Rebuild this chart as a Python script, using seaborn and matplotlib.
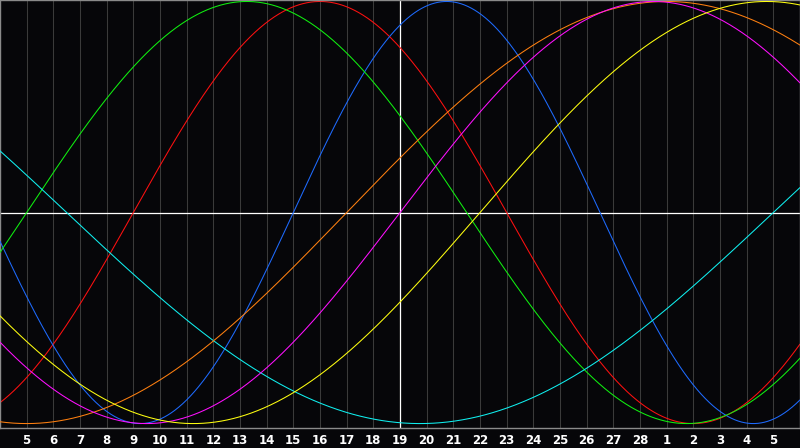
import numpy as np
import pandas as pd
import matplotlib
matplotlib.use("Agg")
import matplotlib.pyplot as plt
import seaborn as sns

# datos del biorritmo
cycle_names = ["Physical", "Emotional", "Intellectual", "Intuitive", "Aesthetic", "Awareness", "Spiritual"]
cycle_days = [23, 28, 33, 38, 43, 48, 53]
cycle_colors = ["#1e6bff", "#ff1010", "#10f010", "#ff10ff", "#ffff10", "#ff8010", "#10f0f0"]
days_alive_at_start = 14387  # dias vividos el dia anterior al primer tick
day_labels = [5, 6, 7, 8, 9, 10, 11, 12, 13, 14, 15, 16, 17, 18, 19, 20, 21, 22, 23, 24,
              25, 26, 27, 28, 1, 2, 3, 4, 5]
today_index = 15  # linea blanca vertical (dia 19)

# orden de dibujo
draw_order = ["Emotional", "Physical", "Intellectual", "Spiritual", "Awareness", "Intuitive", "Aesthetic"]

t = np.linspace(0, len(day_labels) + 1, 1201)
rows = []
for name, period in zip(cycle_names, cycle_days):
    vals = np.sin(2 * np.pi * (days_alive_at_start + t) / period)
    rows.append(pd.DataFrame({"day": t, "value": vals, "cycle": name}))
df = pd.concat(rows, ignore_index=True)

bg = "#060609"
sns.set_style("dark", {"axes.facecolor": bg, "figure.facecolor": bg})

fig = plt.figure(figsize=(8, 4.48), dpi=100)
ax = fig.add_axes([0, 20 / 448, 1, 428 / 448])

ticks = np.arange(1, len(day_labels) + 1)
for x in ticks:
    ax.axvline(x, color="#3a3a3a", lw=0.75, zorder=0.5)
ax.axhline(0, color="white", lw=0.9, zorder=1)
ax.axvline(today_index, color="white", lw=0.9, zorder=1)

palette = dict(zip(cycle_names, cycle_colors))
for i, name in enumerate(draw_order):
    sns.lineplot(data=df[df["cycle"] == name], x="day", y="value", color=palette[name],
                 lw=0.75, ax=ax, legend=False, estimator=None, sort=False,
                 zorder=2 + i)

ax.set_xlim(0, len(day_labels) + 1)
ax.set_ylim(-1.021, 1.007)
ax.set_xticks(ticks)
ax.set_xticklabels([str(d) for d in day_labels], color="white", fontsize=8.5,
                   fontweight="bold", family="DejaVu Sans")
ax.tick_params(axis="x", length=0, pad=4)
ax.set_yticks([])
ax.set_xlabel("")
ax.set_ylabel("")
for s in ax.spines.values():
    s.set_visible(True)
    s.set_color("#8a8a8a")
    s.set_linewidth(1.0)

fig.savefig("out.png", dpi=100, facecolor=bg)
